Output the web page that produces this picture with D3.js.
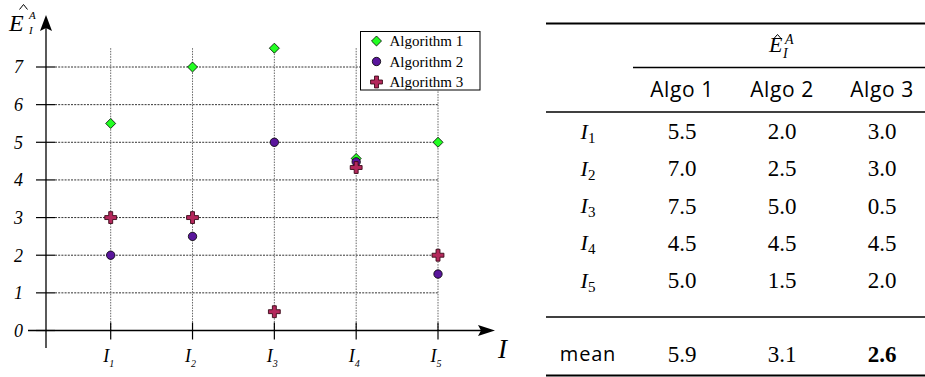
<!DOCTYPE html>
<html>
<head>
<meta charset="utf-8">
<script src="https://cdn.jsdelivr.net/npm/d3@7"></script>
<style>
  html, body { margin: 0; padding: 0; background: #fff; }
  svg { display: block; }
</style>
</head>
<body>
<svg id="chart" width="925" height="377"></svg>
<script>
// ---------------- data ----------------
const instances = ["1", "2", "3", "4", "5"];            // I_1 .. I_5 (subscripts)
const yTicks = [0, 1, 2, 3, 4, 5, 6, 7];
const seriesNames = ["Algorithm 1", "Algorithm 2", "Algorithm 3"];
// values as plotted
const algo1 = [5.5, 7.0, 7.5, 4.57, 5.0];
const algo2 = [2.0, 2.5, 5.0, 4.48, 1.5];
const algo3 = [3.0, 3.0, 0.5, 4.33, 2.0];
// table values
const tableAlgos = ["Algo 1", "Algo 2", "Algo 3"];
const table1 = [5.5, 7.0, 7.5, 4.5, 5.0];
const table2 = [2.0, 2.5, 5.0, 4.5, 1.5];
const table3 = [3.0, 3.0, 0.5, 4.5, 2.0];

// ---------------- chart ----------------
const svg = d3.select("#chart");
const serif = "Liberation Serif, Times New Roman, serif";
const sans = "Open Sans, DejaVu Sans, sans-serif";

const x = d3.scalePoint().domain(instances).range([110.7, 438]);
const y = d3.scaleLinear().domain([0, 7]).range([330.5, 67]);
const axisX = 46;

const g = svg.append("g");

// horizontal grid lines
g.selectAll("line.hgrid").data(yTicks.filter(d => d > 0)).join("line")
  .attr("x1", axisX + 9).attr("x2", x(instances[instances.length - 1]))
  .attr("y1", d => y(d)).attr("y2", d => y(d))
  .attr("stroke", "#333").attr("stroke-width", 1).attr("stroke-dasharray", "2,1.2");

// vertical grid lines
const maxVal = d3.max([...algo1, ...algo2, ...algo3]);
g.selectAll("line.vgrid").data(instances).join("line")
  .attr("x1", d => x(d)).attr("x2", d => x(d))
  .attr("y1", y(maxVal)).attr("y2", y(0))
  .attr("stroke", "#666").attr("stroke-width", 1).attr("stroke-dasharray", "1.5,1.2");

// y ticks
g.selectAll("line.ytick").data(yTicks).join("line")
  .attr("x1", axisX - 10).attr("x2", axisX + 9)
  .attr("y1", d => y(d)).attr("y2", d => y(d))
  .attr("stroke", "#000").attr("stroke-width", 1.2);
g.selectAll("text.ylab").data(yTicks).join("text")
  .attr("x", 23).attr("y", d => y(d)).attr("dy", "0.35em")
  .attr("text-anchor", "end").attr("font-family", serif)
  .attr("font-style", "italic").attr("font-size", 18).text(d => d);

// x ticks
g.selectAll("line.xtick").data(instances).join("line")
  .attr("x1", d => x(d)).attr("x2", d => x(d))
  .attr("y1", y(0) - 8).attr("y2", y(0) + 9)
  .attr("stroke", "#000").attr("stroke-width", 1.2);
const xl = g.selectAll("text.xlab").data(instances).join("text")
  .attr("x", d => x(d) - 2).attr("y", 362)
  .attr("text-anchor", "middle").attr("font-family", serif)
  .attr("font-style", "italic").attr("font-size", 18);
xl.append("tspan").text("I");
xl.append("tspan").attr("dy", 5).attr("font-size", 10).text(d => d);

// axes
g.append("line").attr("x1", axisX).attr("x2", axisX).attr("y1", 348).attr("y2", 28)
  .attr("stroke", "#000").attr("stroke-width", 1.3);
g.append("path").attr("d", `M${axisX},15 L${axisX - 6},31 L${axisX},28 L${axisX + 6},31 Z`).attr("fill", "#000");
g.append("line").attr("x1", 28).attr("x2", 482).attr("y1", y(0)).attr("y2", y(0))
  .attr("stroke", "#000").attr("stroke-width", 1.3);
g.append("path").attr("d", `M495,${y(0)} L478,${y(0) - 5.5} L481,${y(0)} L478,${y(0) + 5.5} Z`).attr("fill", "#000");

// axis labels
g.append("text").attr("x", 498).attr("y", 358).attr("font-family", serif)
  .attr("font-style", "italic").attr("font-size", 27).text("I");
g.append("text").attr("x", 9).attr("y", 31).attr("font-family", serif)
  .attr("font-style", "italic").attr("font-size", 24).text("E");
g.append("path").attr("d", "M19.5,9.5 L23.5,4.5 L27.5,9.5").attr("fill", "none")
  .attr("stroke", "#000").attr("stroke-width", 1);
g.append("text").attr("x", 29).attr("y", 19).attr("font-family", serif)
  .attr("font-style", "italic").attr("font-size", 11).text("A");
g.append("text").attr("x", 29).attr("y", 34).attr("font-family", serif)
  .attr("font-style", "italic").attr("font-size", 11).text("I");

// markers
const diamond = d3.symbol().type(d3.symbolDiamond2).size(64);
const plus = d3.symbol().type(d3.symbolCross).size(78);
const styles = [
  { fill: "#22ff22", stroke: "#000" },
  { fill: "#5a169c", stroke: "#000" },
  { fill: "#b4285c", stroke: "#3a0a18" }
];
function drawMarker(sel, i) {
  if (i === 0) sel.append("path").attr("d", diamond).attr("fill", styles[0].fill).attr("stroke", styles[0].stroke).attr("stroke-width", 0.8);
  else if (i === 1) sel.append("circle").attr("r", 4.2).attr("fill", styles[1].fill).attr("stroke", styles[1].stroke).attr("stroke-width", 0.8);
  else sel.append("path").attr("d", plus).attr("fill", styles[2].fill).attr("stroke", styles[2].stroke).attr("stroke-width", 0.9);
}
[algo1, algo2, algo3].forEach((vals, i) => {
  g.selectAll(null).data(vals).join("g")
    .attr("transform", (d, j) => `translate(${x(instances[j])},${y(d)})`)
    .each(function () { drawMarker(d3.select(this), i); });
});

// legend
const lg = g.append("g").attr("transform", "translate(360.5,31.5)");
lg.append("rect").attr("width", 119.5).attr("height", 58.5).attr("fill", "#fff").attr("stroke", "#000").attr("stroke-width", 1);
seriesNames.forEach((name, i) => {
  const row = lg.append("g").attr("transform", `translate(16,${9.5 + i * 20.5})`);
  drawMarker(row, i);
  row.append("text").attr("x", 13).attr("y", 0).attr("dy", "0.35em")
    .attr("font-family", serif).attr("font-size", 15).text(name);
});

// ---------------- table ----------------
const t = svg.append("g");
const colX = d3.scalePoint().domain(tableAlgos).range([682, 882]);
const rowY = d3.scalePoint().domain(instances).range([131, 280]);
const labelX = 588;
const tableCols = [table1, table2, table3];
const means = tableCols.map(c => d3.mean(c));
const minMean = d3.min(means);

function rule(x1, yy, w) {
  t.append("line").attr("x1", x1).attr("x2", 925).attr("y1", yy).attr("y2", yy)
    .attr("stroke", "#000").attr("stroke-width", w);
}
rule(546, 23.5, 2);
rule(633, 67.5, 1.4);
rule(546, 112, 1.4);
rule(546, 317, 1.4);
rule(546, 375.5, 2);

// header E hat
t.append("text").attr("x", 769).attr("y", 52).attr("font-family", serif)
  .attr("font-style", "italic").attr("font-size", 22).text("E");
t.append("path").attr("d", "M773.5,39 L777.5,34.5 L781.5,39").attr("fill", "none")
  .attr("stroke", "#000").attr("stroke-width", 1);
t.append("text").attr("x", 785).attr("y", 44).attr("font-family", serif)
  .attr("font-style", "italic").attr("font-size", 14).text("A");
t.append("text").attr("x", 783).attr("y", 58).attr("font-family", serif)
  .attr("font-style", "italic").attr("font-size", 14).text("I");

t.selectAll("text.colh").data(tableAlgos).join("text")
  .attr("x", d => colX(d)).attr("y", 90).attr("dy", "0.35em").attr("text-anchor", "middle")
  .attr("font-family", sans).attr("font-size", 21).attr("letter-spacing", 0.6).text(d => d);

const rl = t.selectAll("text.rowl").data(instances).join("text")
  .attr("x", labelX).attr("y", d => rowY(d)).attr("dy", "0.35em").attr("text-anchor", "middle")
  .attr("font-family", serif).attr("font-style", "italic").attr("font-size", 22);
rl.append("tspan").text("I");
rl.append("tspan").attr("dy", 4).attr("font-size", 15).attr("font-style", "normal").text(d => d);

tableCols.forEach((col, ci) => {
  t.selectAll(null).data(col).join("text")
    .attr("x", colX(tableAlgos[ci])).attr("y", (d, j) => rowY(instances[j])).attr("dy", "0.35em")
    .attr("text-anchor", "middle").attr("font-family", serif).attr("font-size", 23)
    .text(d => d.toFixed(1));
});

t.append("text").attr("x", labelX).attr("y", 354).attr("dy", "0.35em").attr("text-anchor", "middle")
  .attr("font-family", sans).attr("font-size", 20).attr("letter-spacing", 0.8).text("mean");
t.selectAll("text.mean").data(means).join("text")
  .attr("x", (d, i) => colX(tableAlgos[i])).attr("y", 354).attr("dy", "0.35em")
  .attr("text-anchor", "middle").attr("font-family", serif).attr("font-size", 23)
  .attr("font-weight", d => d === minMean ? "bold" : "normal")
  .text(d => d.toFixed(1));
</script>
</body>
</html>
